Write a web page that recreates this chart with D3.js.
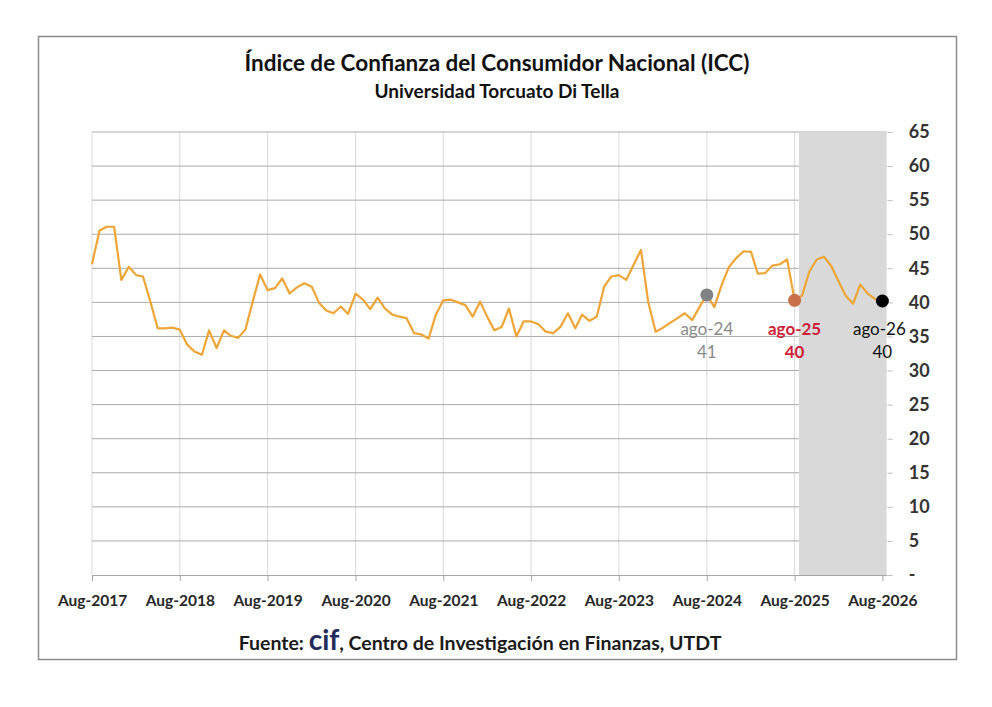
<!DOCTYPE html>
<html>
<head>
<meta charset="utf-8">
<script src="https://cdn.jsdelivr.net/npm/d3@7"></script>
<style>
    body { margin: 0; background: #fff; }
    svg { display: block; font-family: Lato, "Open Sans", sans-serif; }
</style>
</head>
<body>
<svg id="chart" width="992" height="707"></svg>
<script>
// ICC monthly values, Aug-2017 .. Aug-2026
const startMonth = new Date(2017, 7, 1);
const icc = [
    45.6, 50.5, 51.1, 51.1, 43.3, 45.2, 44.0, 43.8, 40.1, 36.2,
    36.2, 36.3, 36.0, 33.8, 32.8, 32.3, 35.9, 33.3, 35.9, 35.1,
    34.8, 36.0, 40.2, 44.1, 41.8, 42.1, 43.5, 41.3, 42.2, 42.8,
    42.3, 40.0, 38.8, 38.4, 39.4, 38.3, 41.3, 40.4, 39.0, 40.7,
    39.1, 38.2, 37.9, 37.7, 35.5, 35.3, 34.7, 38.2, 40.3, 40.4,
    40.0, 39.6, 37.9, 40.1, 37.8, 35.9, 36.4, 39.1, 35.0, 37.2,
    37.2, 36.8, 35.7, 35.5, 36.4, 38.4, 36.2, 38.2, 37.3, 37.9,
    42.3, 43.8, 44.0, 43.3, 45.5, 47.7, 40.1, 35.7, 36.3, 37.0,
    37.7, 38.4, 37.4, 39.3, 41.1, 39.3, 42.5, 45.2, 46.5, 47.5,
    47.4, 44.2, 44.3, 45.4, 45.6, 46.3, 40.3, 41.0, 44.5, 46.3,
    46.7, 45.3, 43.0, 41.0, 39.8, 42.6, 41.3, 40.5, 40.2
];

const xTickYears = [2017, 2018, 2019, 2020, 2021, 2022, 2023, 2024, 2025, 2026];
const yTicks = [0, 5, 10, 15, 20, 25, 30, 35, 40, 45, 50, 55, 60, 65];

// highlighted points: month index, label, value text
const marks = [
    { i: 84, label: "ago-24", value: "41", dot: "#808285", text: "#8a8a8a", weight: "normal" },
    { i: 96, label: "ago-25", value: "40", dot: "#c8714b", text: "#cc1f3a", weight: "bold" },
    { i: 108, label: "ago-26", value: "40", dot: "#000000", text: "#111111", weight: "normal" }
];

// shaded projection window
const bandStart = new Date(2025, 7, 19);
const axisEnd = new Date(2026, 7, 19);

const data = icc.map((v, i) => ({ date: d3.timeMonth.offset(startMonth, i), v: v }));

const svg = d3.select("#chart");

const margin = { top: 132, right: 105.3, bottom: 132, left: 92 };
const W = 992, H = 707;

// outer frame
svg.append("rect")
    .attr("x", 38.5).attr("y", 36.5)
    .attr("width", 918).attr("height", 623)
    .attr("fill", "#fff")
    .attr("stroke", "#8c8c8c")
    .attr("stroke-width", 1.5);

const x = d3.scaleTime()
    .domain([startMonth, axisEnd])
    .range([margin.left, W - margin.right]);

const y = d3.scaleLinear()
    .domain([0, 65])
    .range([H - margin.bottom, margin.top]);

const plotBottom = y(0), plotTop = y(65);

// vertical grid
svg.append("g")
    .selectAll("line")
    .data(xTickYears)
    .enter().append("line")
    .attr("x1", d => x(new Date(d, 7, 1)))
    .attr("x2", d => x(new Date(d, 7, 1)))
    .attr("y1", plotTop)
    .attr("y2", plotBottom)
    .attr("stroke", "#d9d9d9")
    .attr("stroke-width", 1);

// horizontal grid
svg.append("g")
    .selectAll("line")
    .data(yTicks.filter(d => d > 0))
    .enter().append("line")
    .attr("x1", x.range()[0])
    .attr("x2", x.range()[1])
    .attr("y1", d => y(d))
    .attr("y2", d => y(d))
    .attr("stroke", "#ababab")
    .attr("stroke-width", 1);

// grey band
svg.append("rect")
    .attr("x", x(bandStart))
    .attr("y", plotTop)
    .attr("width", x(axisEnd) - x(bandStart))
    .attr("height", plotBottom - plotTop)
    .attr("fill", "#d9d9d9");

// x axis
const axisX = d3.axisBottom(x)
    .tickValues(xTickYears.map(d => new Date(d, 7, 1)))
    .tickFormat(d3.timeFormat("Aug-%Y"))
    .tickSize(6)
    .tickSizeOuter(0);

const gx = svg.append("g")
    .attr("transform", "translate(0," + plotBottom + ")")
    .call(axisX);
gx.select(".domain").attr("stroke", "#a6a6a6");
gx.selectAll(".tick line").attr("stroke", "#a6a6a6");
gx.selectAll(".tick text")
    .attr("dy", "1.4em")
    .style("font-size", "15.5px")
    .style("font-weight", "bold")
    .style("fill", "#262626")
    .style("font-family", "Lato, sans-serif");

// y axis on the right
const axisY = d3.axisRight(y)
    .tickValues(yTicks)
    .tickFormat(d => d === 0 ? "-" : d)
    .tickSize(5)
    .tickPadding(16)
    .tickSizeOuter(0);

const gy = svg.append("g")
    .attr("transform", "translate(" + (x.range()[1] + 1) + ",0)")
    .call(axisY);
gy.select(".domain").remove();
gy.selectAll(".tick line").attr("stroke", "#bfbfbf");
gy.selectAll(".tick text")
    .style("font-size", "18px")
    .style("font-weight", "bold")
    .style("fill", "#333")
    .style("font-family", "Lato, sans-serif");

// ICC line
const line = d3.line()
    .x(d => x(d.date))
    .y(d => y(d.v));

svg.append("path")
    .datum(data)
    .attr("d", line)
    .attr("fill", "none")
    .attr("stroke", "#eea536")
    .attr("stroke-width", 2.2)
    .attr("stroke-linejoin", "round");

// highlighted points
svg.append("g")
    .selectAll("circle")
    .data(marks)
    .enter().append("circle")
    .attr("cx", d => x(data[d.i].date))
    .attr("cy", d => y(data[d.i].v))
    .attr("r", 6.5)
    .attr("fill", d => d.dot);

const lab = svg.append("g").style("font-size", "17px");
lab.selectAll("text.lbl")
    .data(marks)
    .enter().append("text")
    .attr("class", "lbl")
    .attr("x", d => x(data[d.i].date) - (d.i === 108 ? 3 : 0))
    .attr("y", 335)
    .attr("text-anchor", "middle")
    .attr("fill", d => d.text)
    .attr("font-weight", d => d.weight)
    .text(d => d.label);
lab.selectAll("text.val")
    .data(marks)
    .enter().append("text")
    .attr("class", "val")
    .attr("x", d => x(data[d.i].date))
    .attr("y", 358)
    .attr("text-anchor", "middle")
    .attr("fill", d => d.text)
    .attr("font-weight", d => d.weight)
    .text(d => d.value);

// titles
svg.append("text")
    .attr("x", 497).attr("y", 71)
    .attr("text-anchor", "middle")
    .style("font-size", "22.5px")
    .style("font-weight", "bold")
    .style("fill", "#111")
    .text("Índice de Confianza del Consumidor Nacional (ICC)");

svg.append("text")
    .attr("x", 497).attr("y", 98)
    .attr("text-anchor", "middle")
    .style("font-size", "19px")
    .style("font-weight", "bold")
    .style("fill", "#111")
    .text("Universidad Torcuato Di Tella");

// source
const src = svg.append("text")
    .attr("x", 480).attr("y", 650)
    .attr("text-anchor", "middle")
    .style("font-size", "19.5px")
    .style("font-weight", "bold")
    .style("fill", "#1a1a1a");
src.append("tspan").text("Fuente: ");
src.append("tspan").style("font-size", "28px").style("fill", "#1f2b5b").text("cif");
src.append("tspan").text(", Centro de Investigación en Finanzas, UTDT");
</script>
</body>
</html>
